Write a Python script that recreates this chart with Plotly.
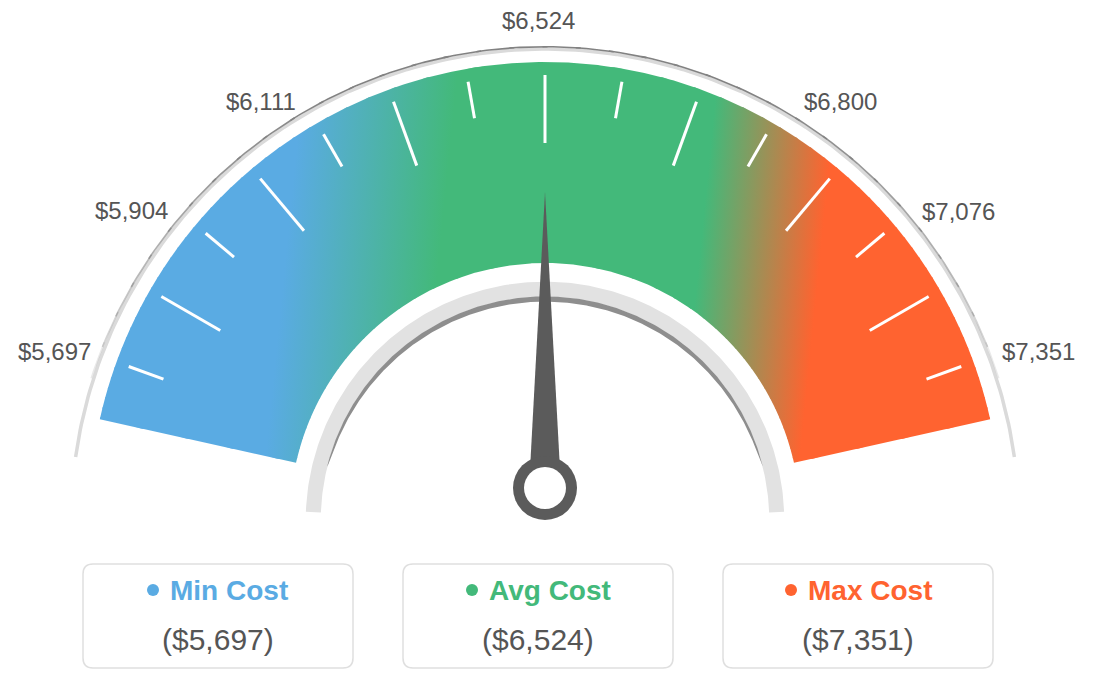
import numpy as np
import plotly.graph_objects as go

# ---------------- data ----------------
min_cost = 5697
avg_cost = 6524
max_cost = 7351
scale_labels = [5697, 5904, 6111, 6524, 6800, 7076, 7351]
card_titles = ["Min Cost", "Avg Cost", "Max Cost"]
card_values = [min_cost, avg_cost, max_cost]

# ---------------- style / layout ----------------
BLUE = "#5AABE3"
GREEN = "#43B97A"
ORANGE = "#FF6330"
TEXT = "#555555"
FONT = "Liberation Sans, Arial, sans-serif"

START_ANG, END_ANG = 167.5, 12.5          # colored band sector (deg)
R_OUT, R_IN = 456, 255                    # colored band radii (px)
label_angles = [161.2, 143.4, 124.3, 90.7, 54.7, 36.6, 18.7]
label_radii = [517.7, 515.4, 503.7, 498, 510.8, 514.6, 520.5]
tick_angles = list(range(20, 161, 10))
card_centers = [-327, -7, 313]
card_colors = [BLUE, GREEN, ORANGE]
card_half_group = [71, 72, 73]
PAGE_MARGIN = 8                           # default body margin of the html page

# gradient stops (x position at reference height), slightly tilted gradient
grad_x = [-258, -104, 156, 277]
grad_ref_y = 278
grad_tilt = 0.1

fig = go.Figure()


def arc(r, a0, a1, n=200, cy=0.0):
    t = np.radians(np.linspace(a0, a1, n))
    return r * np.cos(t), cy + r * np.sin(t)


def ring(r0, r1, a0, a1, n=240, cy=0.0):
    xo, yo = arc(r1, a0, a1, n, cy)
    xi, yi = arc(r0, a1, a0, n, cy)
    return np.concatenate([xo, xi, xo[:1]]), np.concatenate([yo, yi, yo[:1]])


def clip_half(pts, inside, ycut):
    out = []
    for i in range(len(pts)):
        cur, prev = pts[i], pts[i - 1]
        ci, pi = inside(cur), inside(prev)
        if ci:
            if not pi:
                t = (ycut - prev[1]) / (cur[1] - prev[1])
                out.append((prev[0] + t * (cur[0] - prev[0]), ycut))
            out.append(cur)
        elif pi:
            t = (ycut - prev[1]) / (cur[1] - prev[1])
            out.append((prev[0] + t * (cur[0] - prev[0]), ycut))
    return out


# outer thin arc (light part)
x, y = arc(474, 8, 172, cy=-5)
fig.add_trace(go.Scatter(x=x, y=y, mode="lines", line=dict(color="#dadada", width=3.5),
                         hoverinfo="skip"))
# outer thin arc (darker part, fading toward the ends)
segs = np.linspace(18, 162, 37)
for a0, a1 in zip(segs[:-1], segs[1:]):
    mid = (a0 + a1) / 2
    s = max(0.0, (np.sin(np.radians(mid)) - np.sin(np.radians(18))) / (1 - np.sin(np.radians(18))))
    alpha = min(1.0, s ** 0.6 * 1.1)
    x, y = arc(476.3, a0 - 0.3, a1 + 0.3, 12, cy=-5)
    fig.add_trace(go.Scatter(x=x, y=y, mode="lines",
                             line=dict(color=f"rgba(130,130,130,{alpha:.3f})", width=1.6),
                             hoverinfo="skip"))

# colored band, drawn in horizontal strips so the gradient can lean slightly
bx, by = ring(R_IN, R_OUT, END_ANG, START_ANG, n=500)
band = list(zip(bx[:-1], by[:-1]))
span = 1000.0
stops = [(gx + 500) / span for gx in grad_x]
cscale = [[0.0, BLUE], [stops[0], BLUE], [stops[1], GREEN],
          [stops[2], GREEN], [stops[3], ORANGE], [1.0, ORANGE]]
edges = np.arange(50, 470, 10)
for ya, yb in zip(edges[:-1], edges[1:]):
    piece = clip_half(band, lambda p: p[1] >= ya - 0.7, ya - 0.7)
    if not piece:
        continue
    piece = clip_half(piece, lambda p: p[1] <= yb + 0.7, yb + 0.7)
    if len(piece) < 3:
        continue
    shift = grad_tilt * ((ya + yb) / 2 - grad_ref_y)
    px = [p[0] for p in piece] + [piece[0][0]]
    py = [p[1] for p in piece] + [piece[0][1]]
    fig.add_trace(go.Scatter(
        x=px, y=py, mode="lines", fill="toself", line=dict(width=0),
        fillgradient=dict(type="horizontal", start=-500 + shift, stop=500 + shift,
                          colorscale=cscale),
        hoverinfo="skip"))

# ticks
tx, ty = [], []
for a in tick_angles:
    long_tick = ((a - 90) // 10) % 2 == 0
    r0 = 375 if long_tick else 406
    r1 = 443
    t = np.radians(a)
    tx += [r0 * np.cos(t), r1 * np.cos(t), None]
    ty += [r0 * np.sin(t), r1 * np.sin(t), None]
fig.add_trace(go.Scatter(x=tx, y=ty, mode="lines", line=dict(color="white", width=3),
                         hoverinfo="skip"))

# inner gray band
x, y = ring(224.3, 239.3, 2.2, 177.8, cy=-3)
fig.add_trace(go.Scatter(x=x, y=y, mode="lines", fill="toself", fillcolor="#e2e2e2",
                         line=dict(width=0), hoverinfo="skip"))
# inner dark shadow crescent
angs = np.linspace(14, 166, 300)
s0 = np.sin(np.radians(14))
w = 5.2 * np.sqrt(np.clip((np.sin(np.radians(angs)) - s0) / (1 - s0), 0, 1))
t = np.radians(angs)
xo, yo = 224.6 * np.cos(t), -3 + 224.6 * np.sin(t)
xi, yi = (224.6 - w) * np.cos(t), -3 + (224.6 - w) * np.sin(t)
fig.add_trace(go.Scatter(x=np.concatenate([xo, xi[::-1]]), y=np.concatenate([yo, yi[::-1]]),
                         mode="lines", fill="toself", fillcolor="#8e8e8e",
                         line=dict(width=0), hoverinfo="skip"))

# needle
needle_ang = START_ANG + (avg_cost - min_cost) / (max_cost - min_cost) * (END_ANG - START_ANG)
pv = np.array([0.0, 30.0])
d = np.array([np.cos(np.radians(needle_ang)), np.sin(np.radians(needle_ang))])
p = np.array([-d[1], d[0]])
tip = pv + 296 * d
bl = pv + 16 * p
br = pv - 16 * p
fig.add_trace(go.Scatter(x=[tip[0], bl[0], br[0], tip[0]], y=[tip[1], bl[1], br[1], tip[1]],
                         mode="lines", fill="toself", fillcolor="#5b5b5b",
                         line=dict(width=0), hoverinfo="skip"))

shapes = []
# pivot ring
shapes.append(dict(type="circle", xref="x", yref="y", x0=pv[0] - 32, x1=pv[0] + 32,
                   y0=pv[1] - 32, y1=pv[1] + 32, fillcolor="#5b5b5b", line=dict(width=0)))
shapes.append(dict(type="circle", xref="x", yref="y", x0=pv[0] - 21, x1=pv[0] + 21,
                   y0=pv[1] - 21, y1=pv[1] + 21, fillcolor="white", line=dict(width=0)))


def rounded_rect(x0, y0, x1, y1, r):
    return (f"M {x0 + r},{y0} L {x1 - r},{y0} Q {x1},{y0} {x1},{y0 + r} "
            f"L {x1},{y1 - r} Q {x1},{y1} {x1 - r},{y1} L {x0 + r},{y1} "
            f"Q {x0},{y1} {x0},{y1 - r} L {x0},{y0 + r} Q {x0},{y0} {x0 + r},{y0} Z")


annotations = []
for lab, a, r in zip(scale_labels, label_angles, label_radii):
    t = np.radians(a)
    annotations.append(dict(x=r * np.cos(t), y=r * np.sin(t), xref="x", yref="y",
                            text=f"${lab:,}", showarrow=False, xanchor="center",
                            yanchor="middle", font=dict(family=FONT, size=24, color=TEXT)))

for cx, title, val, col, hg in zip(card_centers, card_titles, card_values, card_colors,
                                   card_half_group):
    shapes.append(dict(type="path", xref="x", yref="y",
                       path=rounded_rect(cx - 135, -150, cx + 135, -46, 10),
                       fillcolor="white", line=dict(color="#dfdfdf", width=1.5)))
    dot_cx = cx - hg + 6
    shapes.append(dict(type="circle", xref="x", yref="y", x0=dot_cx - 6, x1=dot_cx + 6,
                       y0=-72 - 6, y1=-72 + 6, fillcolor=col, line=dict(width=0)))
    annotations.append(dict(x=dot_cx + 15, y=-72, xref="x", yref="y",
                            text=f"<b>{title}</b>", showarrow=False, xanchor="left",
                            yanchor="middle", font=dict(family=FONT, size=28, color=col)))
    annotations.append(dict(x=cx, y=-121, xref="x", yref="y",
                            text=f"(${val:,})", showarrow=False, xanchor="center",
                            yanchor="middle", font=dict(family=FONT, size=30, color=TEXT)))

W, H = 1104 - PAGE_MARGIN, 690 - PAGE_MARGIN
x_min = -545 + PAGE_MARGIN
y_max = 518 - PAGE_MARGIN
fig.update_layout(
    width=W, height=H, margin=dict(l=0, r=0, t=0, b=0),
    paper_bgcolor="white", plot_bgcolor="white", showlegend=False,
    xaxis=dict(range=[x_min, x_min + W], visible=False, fixedrange=True),
    yaxis=dict(range=[y_max - H, y_max], visible=False, fixedrange=True),
    shapes=shapes, annotations=annotations, hovermode=False,
)

fig.write_html("out.html")
